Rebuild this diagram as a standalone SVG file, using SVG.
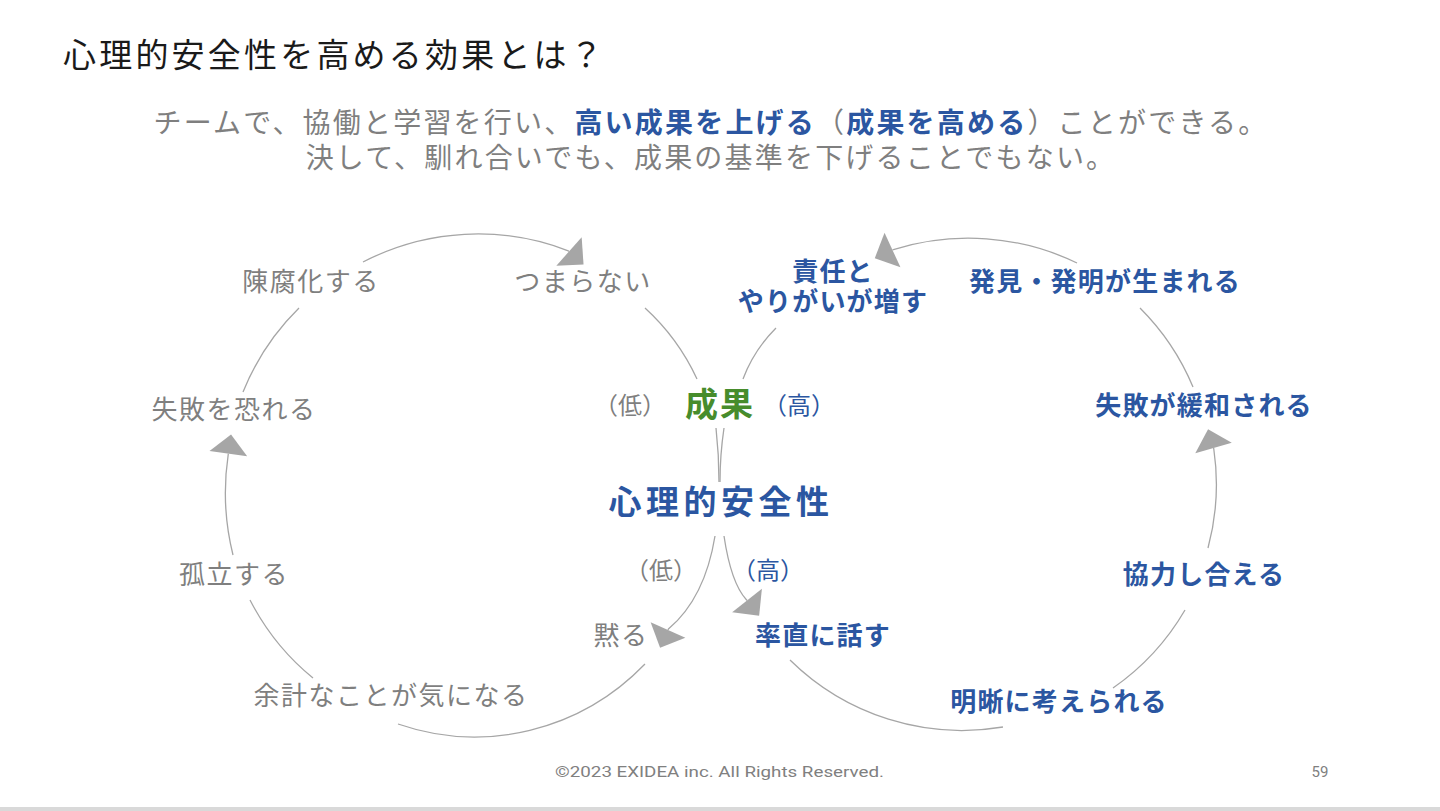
<svg xmlns="http://www.w3.org/2000/svg" width="1440" height="811" viewBox="0 0 1440 811">
<defs>
<style>
.t{font-family:"Noto Sans CJK JP","Noto Sans",sans-serif}
.g{fill:#7f7f7f;font-size:26px;letter-spacing:1.5px}
.b{fill:#2b56a1;font-size:26px;font-weight:700;letter-spacing:1.2px}
.p{font-size:24px;letter-spacing:0px}
.c{fill:none;stroke:#a6a6a6;stroke-width:1.3}
.a{marker-end:url(#ah)}
</style>
<marker id="ah" markerUnits="userSpaceOnUse" markerWidth="22" markerHeight="42" refX="0" refY="20" orient="auto" viewBox="0 0 22 42" overflow="visible">
<path d="M0,1 L19.5,20 L0,39 Z" fill="#a6a6a6"/>
</marker>
</defs>
<rect width="1440" height="811" fill="#ffffff"/>
<rect x="0" y="807" width="1440" height="4" fill="#d9d9d9"/>

<g id="title"><text class="t" x="63" y="67" font-size="33" letter-spacing="3.2" fill="#1a1a1a">心理的安全性を高める効果とは？</text></g>
<g id="subtitle">
<text class="t" x="711" y="133" text-anchor="middle" font-size="28" letter-spacing="2.2" fill="#7f7f7f">チームで、協働と学習を行い、<tspan fill="#2b56a1" font-weight="700">高い成果を上げる</tspan>（<tspan fill="#2b56a1" font-weight="700">成果を高める</tspan>）ことができる。</text>
<text class="t" x="711" y="168" text-anchor="middle" font-size="28" letter-spacing="2.2" fill="#7f7f7f">決して、馴れ合いでも、成果の基準を下げることでもない。</text>
</g>

<g id="connectors">
<path class="c a" d="M715,536 Q705,598 668.4,629.1 l-0.4,0.9"/>
<path class="c" d="M645,664 A240,247 0 0 1 398,724"/>
<path class="c" d="M313,678 A236,247 0 0 1 250,600"/>
<path class="c a" d="M233,555 A236,247 0 0 1 228.2,454.7 l0.14,-1"/>
<path class="c" d="M243,392 A236,247 0 0 1 299,308"/>
<path class="c a" d="M363,262 A250,250 0 0 1 568.25,250.83 l0.75,0.67"/>
<path class="c" d="M645,308 Q678,338 697,379"/>
<path class="c a" d="M724,536 Q731,583 746.4,599.7 l0.62,0.78"/>
<path class="c" d="M790,660 A245,245 0 0 0 1003,727"/>
<path class="c" d="M1113,688 A245,245 0 0 0 1185,610"/>
<path class="c a" d="M1208,548 A245,245 0 0 0 1213.8,449 l-0.28,-0.96"/>
<path class="c" d="M1193,387 A245,245 0 0 0 1140,308"/>
<path class="c a" d="M1077,263 A250,250 0 0 0 893.4,249.6 l-0.91,0.42"/>
<path class="c" d="M776,328 Q754,350 743,379"/>
<path class="c" d="M716,428 Q719,455 719,482"/>
<path class="c" d="M724,428 Q720,455 720,482"/>
</g>

<g id="seika"><text class="t" x="720" y="416" text-anchor="middle" font-size="33" font-weight="700" letter-spacing="2" fill="#478c2c">成果</text></g>
<g id="seika-low"><text class="t g p" x="630" y="414" text-anchor="middle">（低）</text></g>
<g id="seika-high"><text class="t p" x="799" y="414" text-anchor="middle" fill="#2b56a1">（高）</text></g>
<g id="psych-safety"><text class="t" x="721" y="514" text-anchor="middle" font-size="33" font-weight="700" letter-spacing="4.5" fill="#2b56a1">心理的安全性</text></g>
<g id="ps-low"><text class="t g p" x="661" y="579" text-anchor="middle">（低）</text></g>
<g id="ps-high"><text class="t p" x="768" y="579" text-anchor="middle" fill="#2b56a1">（高）</text></g>

<g id="n-damaru"><text class="t g" x="621" y="645" text-anchor="middle">黙る</text></g>
<g id="n-yokei"><text class="t g" x="391" y="705" text-anchor="middle">余計なことが気になる</text></g>
<g id="n-koritsu"><text class="t g" x="234" y="584" text-anchor="middle">孤立する</text></g>
<g id="n-osoreru"><text class="t g" x="234" y="419" text-anchor="middle">失敗を恐れる</text></g>
<g id="n-chinpu"><text class="t g" x="311" y="291" text-anchor="middle">陳腐化する</text></g>
<g id="n-tsumaranai"><text class="t g" x="583" y="291" text-anchor="middle">つまらない</text></g>

<g id="n-sotchoku"><text class="t b" x="823" y="645" text-anchor="middle">率直に話す</text></g>
<g id="n-meiseki"><text class="t b" x="1059" y="711" text-anchor="middle">明晰に考えられる</text></g>
<g id="n-kyoryoku"><text class="t b" x="1204" y="584" text-anchor="middle">協力し合える</text></g>
<g id="n-kanwa"><text class="t b" x="1204" y="415" text-anchor="middle">失敗が緩和される</text></g>
<g id="n-hakken"><text class="t b" x="1105" y="291" text-anchor="middle">発見・発明が生まれる</text></g>
<g id="n-sekinin"><text class="t b" text-anchor="middle"><tspan x="833" y="281">責任と</tspan><tspan x="833" y="311">やりがいが増す</tspan></text></g>

<g id="footer">
<text x="555" y="777" font-family="Roboto,'Liberation Sans',sans-serif" font-size="15" fill="#808080" textLength="329" lengthAdjust="spacingAndGlyphs">©2023 EXIDEA inc. All Rights Reserved.</text>
<text x="1320" y="777" text-anchor="middle" font-family="Roboto,'Liberation Sans',sans-serif" font-size="15" fill="#808080">59</text>
</g>
</svg>
